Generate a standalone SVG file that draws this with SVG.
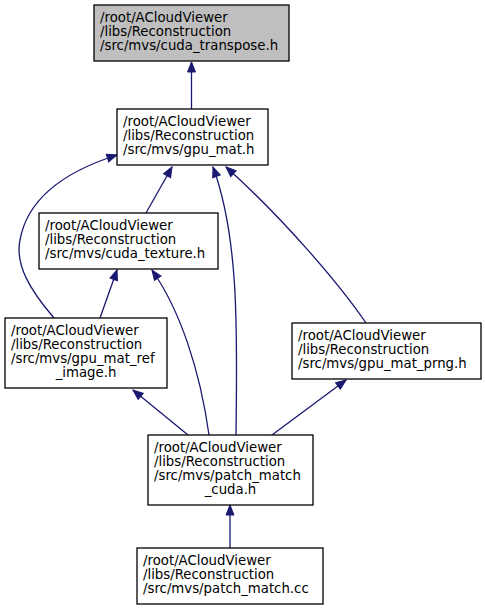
<svg xmlns="http://www.w3.org/2000/svg" width="485" height="616" viewBox="0 0 485 616">
<defs>
<style>
.box{fill:#ffffff;stroke:#000000;stroke-width:1.3}
.root{fill:#bfbfbf}
text{font-family:"DejaVu Sans",sans-serif;font-size:13.3px;fill:#000000}
.c{text-anchor:middle}
.e{fill:none;stroke:#191970;stroke-width:1.3;marker-end:url(#ah)}
</style>
<marker id="ah" markerUnits="userSpaceOnUse" markerWidth="12" markerHeight="10" refX="11" refY="5" orient="auto">
<path d="M1,1 L11,5 L1,9 Z" fill="#191970" stroke="#191970"/>
</marker>
</defs>
<rect width="485" height="616" fill="#ffffff"/>
<g id="edges">
<path class="e" d="M191.5,109 L191.5,62"/>
<path class="e" d="M146,213 L172,167"/>
<path class="e" d="M54,318 C30,290 15,265 20,240 C28,195 70,170 117,155"/>
<path class="e" d="M236,435 C237,340 240,240 213,167"/>
<path class="e" d="M366,323 C340,285 285,220 226,167"/>
<path class="e" d="M100,318 L117,270"/>
<path class="e" d="M209,435 C200,370 180,310 152,270"/>
<path class="e" d="M188,435 L133,390"/>
<path class="e" d="M272,435 L346,380"/>
<path class="e" d="M230,548 L230,505"/>
</g>
<g id="n1">
<rect class="box root" x="94" y="5" width="195" height="56"/>
<text x="100" y="22">/root/ACloudViewer</text>
<text x="100" y="36">/libs/Reconstruction</text>
<text x="100" y="50">/src/mvs/cuda_transpose.h</text>
</g>
<g id="n2">
<rect class="box" x="117" y="109" width="151" height="56"/>
<text x="123" y="126">/root/ACloudViewer</text>
<text x="123" y="140">/libs/Reconstruction</text>
<text x="123" y="154">/src/mvs/gpu_mat.h</text>
</g>
<g id="n3">
<rect class="box" x="39" y="213" width="179" height="56"/>
<text x="45" y="230">/root/ACloudViewer</text>
<text x="45" y="244">/libs/Reconstruction</text>
<text x="45" y="258">/src/mvs/cuda_texture.h</text>
</g>
<g id="n4">
<rect class="box" x="5" y="318" width="162" height="70"/>
<text x="11" y="335">/root/ACloudViewer</text>
<text x="11" y="349">/libs/Reconstruction</text>
<text x="11" y="363">/src/mvs/gpu_mat_ref</text>
<text class="c" x="86" y="377">_image.h</text>
</g>
<g id="n5">
<rect class="box" x="292" y="323" width="189" height="56"/>
<text x="298" y="340">/root/ACloudViewer</text>
<text x="298" y="354">/libs/Reconstruction</text>
<text x="298" y="368">/src/mvs/gpu_mat_prng.h</text>
</g>
<g id="n6">
<rect class="box" x="148" y="435" width="165" height="70"/>
<text x="154" y="452">/root/ACloudViewer</text>
<text x="154" y="466">/libs/Reconstruction</text>
<text x="154" y="480">/src/mvs/patch_match</text>
<text class="c" x="230.5" y="494">_cuda.h</text>
</g>
<g id="n7">
<rect class="box" x="137" y="548" width="186" height="56"/>
<text x="143" y="565">/root/ACloudViewer</text>
<text x="143" y="579">/libs/Reconstruction</text>
<text x="143" y="593">/src/mvs/patch_match.cc</text>
</g>
</svg>
